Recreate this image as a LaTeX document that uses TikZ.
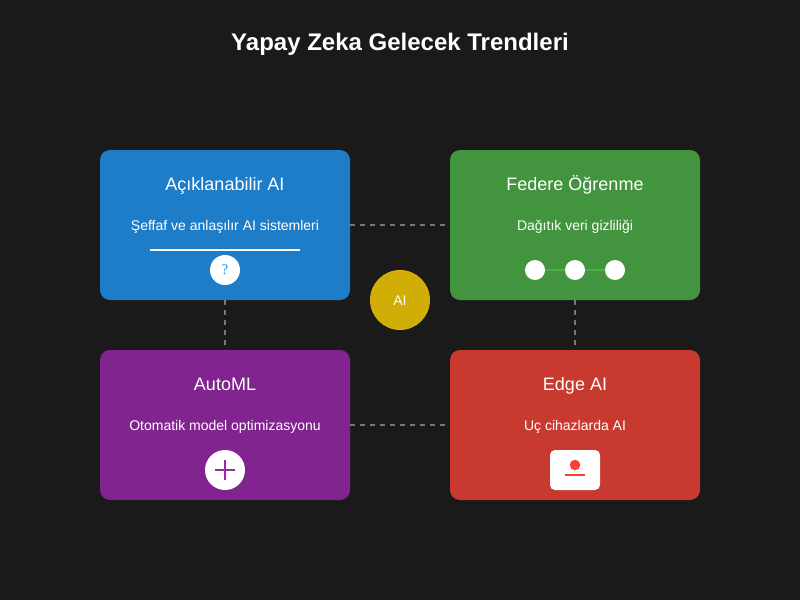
\documentclass[tikz,border=0pt]{standalone}
\usepackage{fontspec}
\setmainfont{Liberation Sans}
\newfontfamily\qfont{Liberation Serif}
\usepackage{tikz}
\usetikzlibrary{backgrounds}
\definecolor{bgdark}{HTML}{1A1A1A}
\definecolor{cardblue}{HTML}{1E7DC8}
\definecolor{cardgreen}{HTML}{43943F}
\definecolor{cardpurple}{HTML}{82248F}
\definecolor{cardred}{HTML}{C83A30}
\definecolor{aigold}{HTML}{D0AE05}
\definecolor{linkgray}{HTML}{777777}
\definecolor{iconblue}{HTML}{2196F3}
\definecolor{icongreen}{HTML}{4CAF50}
\definecolor{iconpurple}{HTML}{9C27B0}
\definecolor{iconred}{HTML}{F44336}
\tikzset{
  card/.style={inner sep=0pt,outer sep=0pt,minimum width=250pt,minimum height=150pt,rounded corners=10pt},
  cardhead/.style={text=white,anchor=base,inner sep=0pt,font=\fontsize{18}{22}\selectfont},
  carddesc/.style={text=white,anchor=base,inner sep=0pt,font=\fontsize{14}{17}\selectfont},
  link/.style={draw=linkgray,line width=2.4pt,dash pattern=on 5pt off 5pt},
  iconline/.style={line width=2.4pt},
  dot/.style={circle,fill=white,inner sep=0pt,outer sep=0pt,minimum size=#1}
}
\begin{document}
\begin{tikzpicture}[x=1pt,y=-1pt]
\useasboundingbox (0,0) rectangle (800,600);
\fill[bgdark] (0,0) rectangle (800,600);
\node[text=white,anchor=base,inner sep=0pt,font=\bfseries\fontsize{24}{28}\selectfont] (title) at (400,50) {Yapay Zeka Gelecek Trendleri};

\node[card,fill=cardblue] (xai) at (225,225) {};
\node[card,fill=cardgreen] (federe) at (575,225) {};
\node[card,fill=cardpurple] (automl) at (225,425) {};
\node[card,fill=cardred] (edge) at (575,425) {};

\draw[link] (xai) -- (federe);
\draw[link] (xai) -- (automl);
\draw[link] (federe) -- (edge);
\draw[link] (automl) -- (edge);

\node[circle,fill=aigold,inner sep=0pt,minimum size=60pt] (center) at (400,300) {};
\node[carddesc] (centerlabel) at (400,305) {AI};

\node[cardhead] (xaihead) at (225,190) {Açıklanabilir AI};
\node[carddesc] (xaidesc) at (225,230) {Şeffaf ve anlaşılır AI sistemleri};
\coordinate (barl) at (150,250);
\coordinate (barr) at (300,250);
\draw[white,iconline] (barl) -- (barr);
\node[dot=30pt,text=iconblue,font=\qfont\fontsize{15}{18}\selectfont] (xaiicon) at (225,270) {?};

\node[cardhead] (federehead) at (575,190) {Federe Öğrenme};
\node[carddesc] (federedesc) at (575,230) {Dağıtık veri gizliliği};
\node[dot=20pt] (fed1) at (535,270) {};
\node[dot=20pt] (fed2) at (575,270) {};
\node[dot=20pt] (fed3) at (615,270) {};
\draw[icongreen,iconline] (fed1) -- (fed2);
\draw[icongreen,iconline] (fed2) -- (fed3);

\node[cardhead] (automlhead) at (225,390) {AutoML};
\node[carddesc] (automldesc) at (225,430) {Otomatik model optimizasyonu};
\node[dot=40pt] (automlicon) at (225,470) {};
\draw[iconpurple,iconline] (215,470) -- (235,470);
\draw[iconpurple,iconline] (225,460) -- (225,480);

\node[cardhead] (edgehead) at (575,390) {Edge AI};
\node[carddesc] (edgedesc) at (575,430) {Uç cihazlarda AI};
\fill[white,rounded corners=5pt] (550,450) rectangle (600,490);
\node[circle,fill=iconred,inner sep=0pt,minimum size=10.5pt] (edgedot) at (575,465) {};
\draw[iconred,iconline] (565,475) -- (585,475);
\end{tikzpicture}
\end{document}
